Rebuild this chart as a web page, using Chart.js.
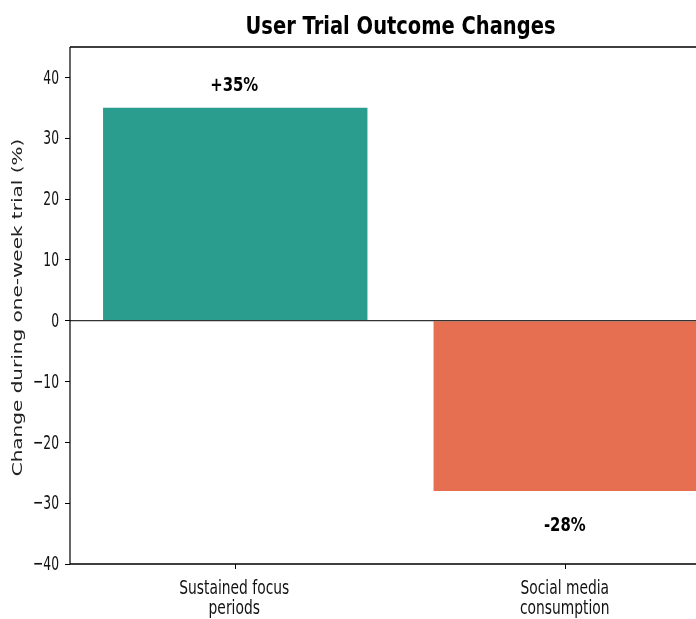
<!DOCTYPE html>
<html>
<head>
<meta charset="utf-8">
<script src="https://cdn.jsdelivr.net/npm/chart.js@4/dist/chart.umd.min.js"></script>
<style>
  html, body { margin: 0; padding: 0; background: #fff; overflow: hidden; }
  #wrap { width: 696px; height: 619px; overflow: hidden; }
</style>
</head>
<body>
<div id="wrap"><canvas id="myChart" width="740" height="619"></canvas></div>
<script>
// data
const categories = [['Sustained focus', 'periods'], ['Social media', 'consumption']];
const changes = [35, -28];
const valueLabels = ['+35%', '-28%'];
const barColors = ['#2a9d8f', '#e76f51'];
const yTicks = [-40, -30, -20, -10, 0, 10, 20, 30, 40];
const yLabels = yTicks.map(v => (v < 0 ? '\u2212' + Math.abs(v) : '' + v));

const font = '"DejaVu Sans", sans-serif';

// text in the reference is narrow, so each group gets its own horizontal squeeze
function squeezeFor(ctx, css, sample, width) {
    ctx.font = css;
    return width / ctx.measureText(sample).width;
}
function narrowText(ctx, text, x, y, sx, align) {
    ctx.save();
    ctx.translate(x, y);
    ctx.scale(sx, 1);
    ctx.textAlign = align;
    ctx.fillText(text, 0, 0);
    ctx.restore();
}

const extras = {
    id: 'extras',
    afterDraw(chart) {
        const a = chart.chartArea;
        const ctx = chart.ctx;
        const y = chart.scales.y;
        const x = chart.scales.x;
        ctx.save();

        // zero line
        ctx.strokeStyle = '#333';
        ctx.lineWidth = 1.3;
        ctx.beginPath();
        ctx.moveTo(a.left, y.getPixelForValue(0));
        ctx.lineTo(a.right, y.getPixelForValue(0));
        ctx.stroke();

        // frame
        ctx.strokeStyle = '#000';
        ctx.lineWidth = 1.5;
        ctx.beginPath();
        ctx.moveTo(a.left, a.top); ctx.lineTo(a.right, a.top);
        ctx.moveTo(a.left, a.bottom); ctx.lineTo(a.right, a.bottom);
        ctx.stroke();
        ctx.lineWidth = 1.2;
        ctx.beginPath();
        ctx.moveTo(a.left, a.top); ctx.lineTo(a.left, a.bottom);
        ctx.moveTo(a.right, a.top); ctx.lineTo(a.right, a.bottom);
        ctx.stroke();

        ctx.fillStyle = '#000';
        ctx.textBaseline = 'alphabetic';

        // title
        let css = 'bold 24px ' + font;
        let sx = squeezeFor(ctx, css, 'User Trial Outcome Changes', 310);
        narrowText(ctx, 'User Trial Outcome Changes', (a.left + a.right) / 2, 34, sx, 'center');

        // value labels
        css = 'bold 20px ' + font;
        sx = squeezeFor(ctx, css, '+35%', 48);
        changes.forEach((v, i) => {
            const base = v >= 0 ? 90.5 : 530.5;
            narrowText(ctx, valueLabels[i], x.getPixelForValue(i) - 1, base, sx, 'center');
        });

        // y tick labels
        ctx.fillStyle = '#111';
        css = '20px ' + font;
        sx = squeezeFor(ctx, css, '\u221240', 26);
        ctx.textBaseline = 'middle';
        yTicks.forEach((v, i) => {
            narrowText(ctx, yLabels[i], 59, y.getPixelForValue(v) + 1, sx, 'right');
        });

        // x tick labels
        ctx.textBaseline = 'alphabetic';
        css = '19px ' + font;
        sx = squeezeFor(ctx, css, 'Sustained focus', 110);
        categories.forEach((lines, i) => {
            lines.forEach((line, j) => {
                narrowText(ctx, line, x.getPixelForValue(i) - 1, 594 + j * 19.5, sx, 'center');
            });
        });

        // y axis title
        ctx.font = '20px ' + font;
        ctx.fillStyle = '#222';
        ctx.save();
        ctx.translate(19, (a.top + a.bottom) / 2 + 2);
        ctx.scale(0.66, 1);
        ctx.rotate(-Math.PI / 2);
        ctx.textAlign = 'center';
        ctx.textBaseline = 'middle';
        ctx.fillText('Change during one-week trial (%)', 0, 0);
        ctx.restore();

        ctx.restore();
    }
};

let ctx = document.getElementById('myChart').getContext('2d');
let chart = new Chart(ctx, {
    type: 'bar',
    data: {
        labels: categories,
        datasets: [{
            data: changes,
            backgroundColor: barColors,
            borderWidth: 0,
            barPercentage: 0.8,
            categoryPercentage: 1.0
        }]
    },
    options: {
        responsive: false,
        animation: false,
        layout: { padding: { top: 47, right: 9, left: 0, bottom: 0 } },
        plugins: {
            legend: { display: false },
            tooltip: { enabled: false }
        },
        scales: {
            x: {
                offset: true,
                grid: { display: true, offset: false, drawOnChartArea: false, drawTicks: true, tickLength: 5, color: '#000', lineWidth: 1 },
                border: { display: false },
                ticks: { color: 'rgba(0,0,0,0)', maxRotation: 0 },
                afterFit(scale) { scale.height = 55; }
            },
            y: {
                min: -40,
                max: 45,
                afterBuildTicks(scale) { scale.ticks = yTicks.map(v => ({ value: v })); },
                grid: { display: true, drawOnChartArea: false, drawTicks: true, tickLength: 5, color: '#000', lineWidth: 1 },
                border: { display: false },
                ticks: { color: 'rgba(0,0,0,0)' },
                afterFit(scale) { scale.width = 70; }
            }
        }
    },
    plugins: [extras]
});
</script>
</body>
</html>
